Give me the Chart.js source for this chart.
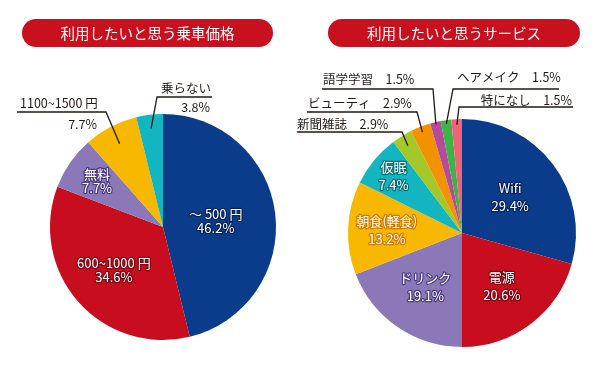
<!DOCTYPE html>
<html>
<head>
<meta charset="utf-8">
<script src="https://cdn.jsdelivr.net/npm/chart.js@4"></script>
<style>
  body { margin: 0; background: #fff; width: 600px; height: 367px; position: relative; overflow: hidden; }
  canvas { position: absolute; top: 0; }
  #grafico1 { left: 0; }
  #grafico2 { left: 290px; }
  .pill {
    position: absolute; top: 19px; height: 28px; line-height: 28px;
    background: #c8101e; color: #fff; border-radius: 14px; text-align: center;
    font-family: "Noto Sans CJK JP", sans-serif; font-size: 14.5px; z-index: 2;
  }
</style>
</head>
<body>
<canvas id="grafico1" width="290" height="367"></canvas>
<canvas id="grafico2" width="310" height="367"></canvas>
<div class="pill" style="left:22px;width:251px">利用したいと思う乗車価格</div>
<div class="pill" style="left:328px;width:252px">利用したいと思うサービス</div>
<script>
// dados
const precoLabels = ['〜 500 円', '600~1000 円', '無料', '1100~1500 円', '乗らない'];
const precoValores = [46.2, 34.6, 7.7, 7.7, 3.8];

const servicoLabels = ['Wifi', '電源', 'ドリンク', '朝食(軽食)', '仮眠', '新聞雑誌', 'ビューティ', '語学学習', 'ヘアメイク', '特になし'];
const servicoValores = [29.4, 20.6, 19.1, 13.2, 7.4, 2.9, 2.9, 1.5, 1.5, 1.5];

// cores
const cores = ['#0b3c8c', '#c80d1e', '#8a78b8', '#f8b800', '#13b5c1', '#a3c828', '#f39200', '#b64b9b', '#3fb34a', '#f2637a'];
const brilho = ['#06245a', '#7a0612', '#4e3f80', '#d07a00', '#0a7077'];

const FONTE = '"Noto Sans CJK JP", sans-serif';

// posicao dos rotulos (inside = fracao do raio; fora = linha guia)
const posPreco = [
    { inside: 0.47 },
    { inside: 0.58 },
    { inside: 0.71 },
    { anchor: 0.83, elbow: [-57, -115], end: -146,
      name: { x: -143, y: -124, align: 'left' }, pct: { x: -66, y: -103, align: 'right' } },
    { anchor: 0.88, elbow: [-6, -130], end: 49,
      name: { x: 23, y: -139, align: 'center' }, pct: { x: 47, y: -120, align: 'right' } }
];

const posServico = [
    { inside: 0.53 },
    { inside: 0.58 },
    { inside: 0.57 },
    { inside: 0.66 },
    { inside: 0.78 },
    { anchor: 0.9, elbow: [-60, -101], end: -165, name: { x: -165, y: -109, align: 'left' } },
    { anchor: 0.95, elbow: [-45, -121], end: -155, name: { x: -154, y: -130, align: 'left' } },
    { anchor: 0.98, elbow: [-29, -144], end: -140, name: { x: -139, y: -154, align: 'left' } },
    { anchor: 0.97, elbow: [-9, -144], end: 97, name: { x: -5, y: -156, align: 'left' } },
    { anchor: 0.95, elbow: [-3, -126], end: 111, name: { x: 110, y: -133, align: 'right' } }
];

const rotulos = {
    id: 'rotulos',
    afterDatasetsDraw(chart, args, opts) {
        const ctx = chart.ctx;
        const meta = chart.getDatasetMeta(0);
        const labels = chart.data.labels;
        const valores = chart.data.datasets[0].data;

        meta.data.forEach((arc, i) => {
            const p = opts.pos[i];
            const meio = (arc.startAngle + arc.endAngle) / 2;
            const r = arc.outerRadius;
            const cx = arc.x, cy = arc.y;
            const pct = valores[i].toFixed(1) + '%';

            ctx.save();
            ctx.textBaseline = 'middle';
            if (p.inside) {
                const x = cx + Math.cos(meio) * r * p.inside;
                const y = cy + Math.sin(meio) * r * p.inside;
                ctx.font = '13px ' + FONTE;
                ctx.textAlign = 'center';
                ctx.lineJoin = 'round';
                ctx.lineWidth = 2.5;
                ctx.strokeStyle = brilho[i];
                ctx.fillStyle = '#fff';
                const g = opts.gap / 2;
                [[labels[i], y - g], [pct, y + g]].forEach(([t, ty]) => {
                    ctx.strokeText(t, x, ty);
                    ctx.fillText(t, x, ty);
                });
            } else {
                const ax = cx + Math.cos(meio) * r * p.anchor;
                const ay = cy + Math.sin(meio) * r * p.anchor;
                const ex = cx + p.elbow[0], ey = cy + p.elbow[1];
                ctx.strokeStyle = '#231815';
                ctx.lineWidth = 1.3;
                ctx.beginPath();
                ctx.moveTo(ax, ay);
                ctx.lineTo(ex, ey);
                ctx.lineTo(cx + p.end, ey);
                ctx.stroke();

                ctx.fillStyle = '#231815';
                ctx.font = '12.5px ' + FONTE;
                const nome = p.pct ? labels[i] : labels[i] + '　' + pct;
                ctx.textAlign = p.name.align;
                ctx.fillText(nome, cx + p.name.x, cy + p.name.y);
                if (p.pct) {
                    ctx.textAlign = p.pct.align;
                    ctx.fillText(pct, cx + p.pct.x, cy + p.pct.y);
                }
            }
            ctx.restore();
        });
    }
};

function grafico(id, labels, valores, pos, padding, gap) {
    const ctx = document.getElementById(id);
    new Chart(ctx, {
        type: 'pie',
        data: {
            labels: labels,
            datasets: [{
                data: valores,
                backgroundColor: cores.slice(0, valores.length),
                borderWidth: 0,
                hoverOffset: 0
            }]
        },
        options: {
            responsive: false,
            animation: false,
            layout: { padding: padding },
            plugins: {
                legend: { display: false },
                tooltip: { enabled: false },
                rotulos: { pos: pos, gap: gap }
            }
        },
        plugins: [rotulos]
    });
}

grafico('grafico1', precoLabels, precoValores, posPreco, { left: 50, right: 14, top: 114, bottom: 27 }, 14);
grafico('grafico2', servicoLabels, servicoValores, posServico, { left: 58, right: 24, top: 119, bottom: 20 }, 18);
</script>
</body>
</html>
